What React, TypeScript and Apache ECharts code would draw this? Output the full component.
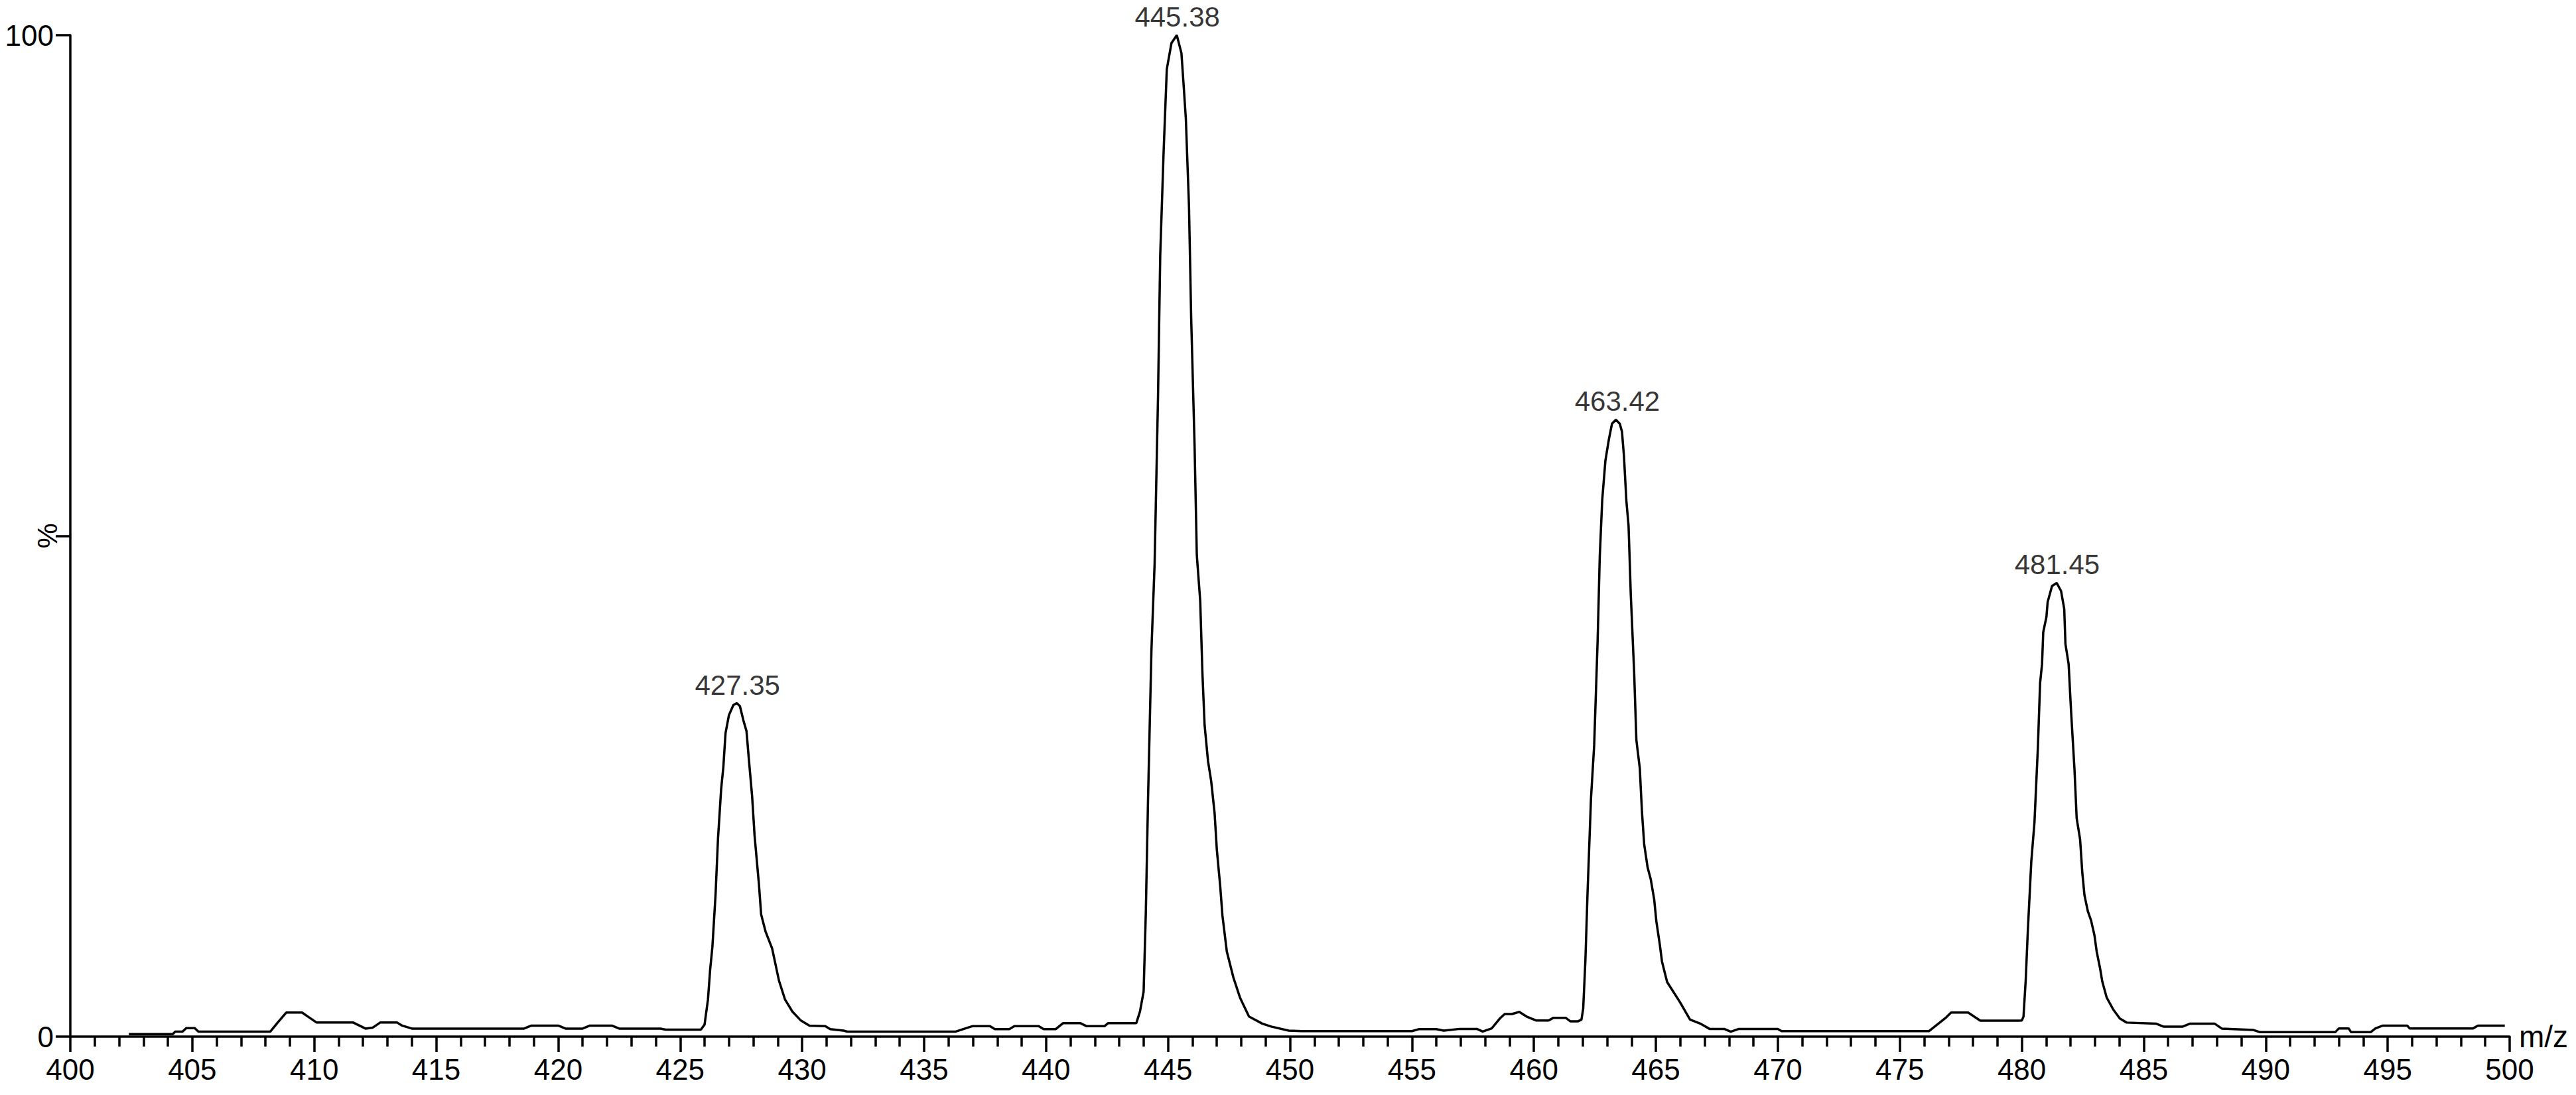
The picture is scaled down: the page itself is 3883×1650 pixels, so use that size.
import React, { useEffect, useRef } from "react";
import * as echarts from "echarts";

// ---- Data (m/z, relative intensity %) ----
const baselineLow: [number, number][] = [
  [402.4, 0.25], [404.2, 0.25], [404.3, 0.5], [404.6, 0.5], [404.75, 0.85], [405.1, 0.85],
  [405.25, 0.5], [408.2, 0.5], [408.5, 1.4], [408.85, 2.4], [409.5, 2.4], [409.8, 1.9],
  [410.1, 1.4], [411.6, 1.4], [412.1, 0.8], [412.4, 0.9], [412.7, 1.4], [413.4, 1.4],
  [413.6, 1.1], [414.0, 0.8], [418.6, 0.8], [418.9, 1.1], [420.0, 1.1], [420.3, 0.8],
  [421.0, 0.8], [421.3, 1.1], [422.2, 1.1], [422.5, 0.8], [424.2, 0.8], [424.4, 0.7],
  [425.85, 0.7],
];

const peak427: [number, number][] = [
  [426.0, 1.2], [426.14, 3.7], [426.23, 6.7], [426.32, 8.9], [426.45, 14.1], [426.55, 19.7],
  [426.68, 24.7], [426.77, 26.9], [426.86, 30.3], [427.0, 32.1], [427.18, 33.1], [427.32, 33.3],
  [427.45, 33.0], [427.59, 31.6], [427.72, 30.5], [427.82, 27.6], [427.95, 24.0], [428.05, 20.1],
  [428.23, 15.2], [428.32, 12.2], [428.5, 10.5], [428.77, 8.8], [429.05, 5.6], [429.3, 3.7],
  [429.6, 2.5], [429.95, 1.6], [430.3, 1.1], [430.95, 1.05], [431.15, 0.75], [431.7, 0.6],
  [431.85, 0.5],
];

const baselineMid1: [number, number][] = [
  [436.3, 0.5], [436.8, 0.9], [437.0, 1.05], [437.7, 1.05], [437.9, 0.75], [438.5, 0.75],
  [438.7, 1.05], [439.7, 1.05], [439.9, 0.75], [440.4, 0.75], [440.7, 1.35], [441.4, 1.35],
  [441.65, 1.05], [442.4, 1.05], [442.55, 1.35], [443.7, 1.35],
];

const peak445: [number, number][] = [
  [443.85, 2.5], [444.0, 4.5], [444.09, 12.4], [444.18, 23.6], [444.32, 38.6], [444.45, 47.2],
  [444.59, 63.9], [444.68, 78.0], [444.82, 88.4], [444.95, 96.6], [445.14, 99.2], [445.36, 100],
  [445.55, 98.2], [445.64, 95.0], [445.73, 91.7], [445.86, 82.9], [445.95, 71.7], [446.09, 58.9],
  [446.18, 48.1], [446.32, 43.5], [446.41, 36.3], [446.5, 31.1], [446.64, 27.5], [446.77, 25.5],
  [446.91, 22.3], [447.0, 18.7], [447.14, 15.0], [447.23, 12.1], [447.41, 8.5], [447.68, 5.9],
  [447.95, 3.9], [448.32, 2.0], [448.86, 1.3], [449.23, 1.0], [449.95, 0.6],
];

const baselineMid2: [number, number][] = [
  [450.5, 0.55], [455.0, 0.55], [455.3, 0.75], [456.0, 0.75], [456.3, 0.6], [456.96, 0.77],
  [457.66, 0.77], [457.9, 0.5], [458.27, 0.82], [458.6, 1.8], [458.8, 2.25], [459.1, 2.25],
  [459.4, 2.47], [459.7, 2.0], [460.1, 1.6], [460.6, 1.6], [460.8, 1.88], [461.3, 1.88],
  [461.5, 1.52], [461.8, 1.52],
];

const peak463: [number, number][] = [
  [461.95, 1.7], [462.02, 2.8], [462.11, 7.6], [462.2, 14.5], [462.34, 23.8], [462.47, 29.1],
  [462.61, 39.4], [462.7, 48.0], [462.8, 53.6], [462.93, 57.5], [463.07, 59.6], [463.2, 61.2],
  [463.36, 61.6], [463.52, 61.2], [463.61, 60.4], [463.69, 58.0], [463.79, 53.5], [463.88, 51.0],
  [463.97, 44.2], [464.11, 36.3], [464.2, 29.6], [464.34, 26.8], [464.43, 22.4], [464.52, 19.2],
  [464.66, 16.9], [464.79, 15.7], [464.93, 13.7], [465.02, 11.5], [465.16, 9.2], [465.25, 7.5],
  [465.46, 5.45], [465.98, 3.47], [466.4, 1.7], [466.85, 1.26], [467.2, 0.77], [467.8, 0.77],
  [468.07, 0.49], [468.4, 0.77], [470.0, 0.77], [470.15, 0.55],
];

const baselineHigh: [number, number][] = [
  [476.2, 0.55], [476.9, 1.92], [477.1, 2.4], [477.8, 2.4], [478.3, 1.59], [479.86, 1.59],
];

const peak481: [number, number][] = [
  [480.0, 1.6], [480.07, 2.0], [480.16, 5.6], [480.25, 10.7], [480.39, 17.5], [480.52, 21.4],
  [480.66, 28.9], [480.75, 35.3], [480.83, 37.2], [480.88, 40.4], [481.01, 41.9], [481.06, 43.4],
  [481.24, 45.0], [481.43, 45.3], [481.61, 44.5], [481.74, 42.7], [481.79, 39.2], [481.92, 37.2],
  [482.02, 32.5], [482.16, 26.7], [482.25, 21.8], [482.39, 19.7], [482.48, 16.4], [482.57, 14.1],
  [482.71, 12.5], [482.84, 11.6], [482.98, 10.1], [483.07, 8.5], [483.21, 6.8], [483.3, 5.5],
  [483.48, 3.9], [483.75, 2.7], [484.02, 1.8], [484.3, 1.4],
];

const baselineTail: [number, number][] = [
  [485.5, 1.3], [485.8, 1.0], [486.6, 1.0], [486.9, 1.3], [487.9, 1.3], [488.2, 0.8],
  [489.5, 0.66], [489.77, 0.44], [492.85, 0.44], [493.0, 0.82], [493.4, 0.82], [493.5, 0.44],
  [494.3, 0.44], [494.5, 0.82], [494.8, 1.1], [495.8, 1.1], [495.9, 0.82], [498.5, 0.82],
  [498.7, 1.1], [499.8, 1.1],
];

const peakLabelMz = [427.35, 445.38, 463.42, 481.45];
const peakLabelIntensity = [33.3, 100, 61.6, 45.3];

const xMin = 400;
const xMax = 500;
const yTickLabels: Record<number, string> = { 0: "0", 50: "", 100: "100" };

const FONT = "'Liberation Sans', Arial, sans-serif";

export default function App() {
  const ref = useRef<HTMLDivElement>(null);

  useEffect(() => {
    if (!ref.current) return;
    const chart = echarts.init(ref.current, undefined, { renderer: "svg" });

    const profile = [
      ...baselineLow,
      ...peak427,
      ...baselineMid1,
      ...peak445,
      ...baselineMid2,
      ...peak463,
      ...baselineHigh,
      ...peak481,
      ...baselineTail,
    ];

    chart.setOption({
      animation: false,
      backgroundColor: "#ffffff",
      grid: {
        left: 106,
        right: 100,
        top: 53,
        bottom: 88,
        containLabel: false,
        outerBoundsMode: "none",
      },
      xAxis: {
        type: "value",
        min: xMin,
        max: xMax,
        interval: 5,
        name: "m/z",
        nameLocation: "end",
        nameGap: 14,
        nameMoveOverlap: false,
        nameTextStyle: { color: "#000", fontSize: 46, fontFamily: FONT, verticalAlign: "middle" },
        axisLine: { show: true, onZero: false, lineStyle: { color: "#000", width: 3.5 } },
        axisTick: { show: true, inside: false, length: 23, lineStyle: { color: "#000", width: 3.5 } },
        minorTick: { show: true, splitNumber: 5, length: 15, lineStyle: { color: "#000", width: 3.5 } },
        splitLine: { show: false },
        minorSplitLine: { show: false },
        axisLabel: { color: "#000", fontSize: 44, fontFamily: FONT, margin: 27, hideOverlap: false },
      },
      yAxis: {
        type: "value",
        min: 0,
        max: 100,
        interval: 50,
        name: "%",
        nameLocation: "middle",
        nameRotate: 90,
        nameGap: 14,
        nameMoveOverlap: false,
        nameTextStyle: { color: "#000", fontSize: 43, fontFamily: FONT },
        axisLine: { show: true, lineStyle: { color: "#000", width: 3.5 } },
        axisTick: { show: true, inside: false, length: 22, lineStyle: { color: "#000", width: 3.5 } },
        splitLine: { show: false },
        axisLabel: {
          color: "#000",
          fontSize: 44,
          fontFamily: FONT,
          margin: 25,
          formatter: (v: number) => (yTickLabels[v] !== undefined ? yTickLabels[v] : ""),
        },
      },
      series: [
        {
          type: "line",
          data: profile,
          showSymbol: false,
          symbol: "none",
          smooth: false,
          lineStyle: { color: "#000", width: 3.5 },
          silent: true,
          z: 2,
        },
        {
          type: "scatter",
          data: peakLabelMz.map((m, i) => [m, peakLabelIntensity[i]]),
          symbolSize: 1,
          itemStyle: { color: "rgba(0,0,0,0)" },
          silent: true,
          z: 3,
          label: {
            show: true,
            position: "top",
            distance: 6,
            color: "#000",
            fontSize: 42,
            fontFamily: FONT,
            formatter: (p: any) => p.value[0].toFixed(2),
          },
        },
      ],
    });

    return () => chart.dispose();
  }, []);

  return (
    <div
      ref={ref}
      style={{ position: "fixed", left: 0, top: 0, width: 3883, height: 1650, background: "#fff" }}
    />
  );
}
